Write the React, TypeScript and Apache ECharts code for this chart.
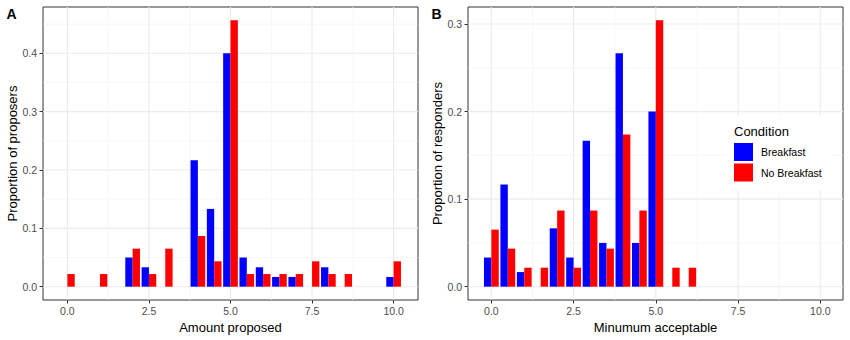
import React, { useEffect, useRef } from "react";
import * as echarts from "echarts";

// ---- Data (proportions) ----
const aBreakfastX = [2, 2.5, 4, 4.5, 5, 5.5, 6, 6.5, 7, 8, 10];
const aBreakfastY = [0.05, 0.0333, 0.2167, 0.1333, 0.4, 0.05, 0.0333, 0.0167, 0.0167, 0.0333, 0.0167];
const aNoBreakfastX = [0, 1, 2, 2.5, 3, 4, 4.5, 5, 5.5, 6, 6.5, 7, 7.5, 8, 8.5, 10];
const aNoBreakfastY = [0.0217, 0.0217, 0.0652, 0.0217, 0.0652, 0.087, 0.0435, 0.4565, 0.0217, 0.0217, 0.0217, 0.0217, 0.0435, 0.0217, 0.0217, 0.0435];

const bBreakfastX = [0, 0.5, 1, 2, 2.5, 3, 3.5, 4, 4.5, 5];
const bBreakfastY = [0.0333, 0.1167, 0.0167, 0.0667, 0.0333, 0.1667, 0.05, 0.2667, 0.05, 0.2];
const bNoBreakfastX = [0, 0.5, 1, 1.5, 2, 2.5, 3, 3.5, 4, 4.5, 5, 5.5, 6];
const bNoBreakfastY = [0.0652, 0.0435, 0.0217, 0.0217, 0.087, 0.0217, 0.087, 0.0435, 0.1739, 0.087, 0.3043, 0.0217, 0.0217];

const xTicks = [0, 2.5, 5, 7.5, 10];
const xMinor = [1.25, 3.75, 6.25, 8.75];
const yTicksA = [0, 0.1, 0.2, 0.3, 0.4];
const yMinorA = [0.05, 0.15, 0.25, 0.35, 0.45];
const yTicksB = [0, 0.1, 0.2, 0.3];
const yMinorB = [0.05, 0.15, 0.25];

const seriesNames = ["Breakfast", "No Breakfast"];
const legendTitle = "Condition";
const xTitles = ["Amount proposed", "Minumum acceptable"];
const yTitles = ["Proportion of proposers", "Proportion of responders"];
const panelLabels = ["A", "B"];

const BLUE = "#0000FF";
const RED = "#FF0000";
const FONT = "Liberation Sans, Arial, sans-serif";
const HALF = 0.225; // half of the dodged pair width (data units)

function zip(xs: number[], ys: number[]) {
  return xs.map((x, i) => [x, ys[i]]);
}

function gridData(xMaj: number[], xMin: number[], yMaj: number[], yMin: number[]) {
  return [
    ...xMin.map((v) => [0, v, 1]),
    ...yMin.map((v) => [1, v, 1]),
    ...xMaj.map((v) => [0, v, 0]),
    ...yMaj.map((v) => [1, v, 0]),
  ];
}

const gridRender = (params: any, api: any) => {
  const cs = params.coordSys;
  const orient = api.value(0);
  const pos = api.value(1);
  const minor = api.value(2) === 1;
  const style = { stroke: minor ? "#F3F3F3" : "#EBEBEB", lineWidth: minor ? 0.7 : 1.1 };
  if (orient === 0) {
    const p = api.coord([pos, 0]);
    return { type: "line", shape: { x1: p[0], y1: cs.y, x2: p[0], y2: cs.y + cs.height }, style };
  }
  const p = api.coord([0, pos]);
  return { type: "line", shape: { x1: cs.x, y1: p[1], x2: cs.x + cs.width, y2: p[1] }, style };
};

const barRender = (side: number, color: string) => (params: any, api: any) => {
  const x = api.value(0);
  const y = api.value(1);
  const left = side < 0 ? x - HALF : x;
  const right = side < 0 ? x : x + HALF;
  const a = api.coord([left, y]);
  const b = api.coord([right, 0]);
  return {
    type: "rect",
    shape: { x: a[0], y: a[1], width: b[0] - a[0], height: b[1] - a[1] },
    style: { fill: color },
  };
};

function xAxisFor(idx: number, min: number, max: number) {
  return {
    type: "value",
    gridIndex: idx,
    min,
    max,
    name: xTitles[idx],
    nameLocation: "middle",
    nameGap: 18,
    nameTextStyle: { color: "#000", fontSize: 13, fontFamily: FONT },
    axisLine: { show: false, onZero: false },
    axisTick: { show: true, length: 3.5, lineStyle: { color: "#333", width: 1 }, customValues: xTicks },
    axisLabel: {
      show: true,
      customValues: xTicks,
      margin: 5,
      color: "#4D4D4D",
      fontSize: 10.5,
      fontFamily: FONT,
      formatter: (v: number) => v.toFixed(1),
    },
    splitLine: { show: false },
  };
}

function yAxisFor(idx: number, min: number, max: number, ticks: number[]) {
  return {
    type: "value",
    gridIndex: idx,
    min,
    max,
    name: yTitles[idx],
    nameLocation: "middle",
    nameGap: 23,
    nameTextStyle: { color: "#000", fontSize: 13, fontFamily: FONT },
    axisLine: { show: false, onZero: false },
    axisTick: { show: true, length: 3.5, lineStyle: { color: "#333", width: 1 }, customValues: ticks },
    axisLabel: {
      show: true,
      customValues: ticks,
      margin: 6,
      color: "#4D4D4D",
      fontSize: 10.5,
      fontFamily: FONT,
      formatter: (v: number) => v.toFixed(1),
    },
    splitLine: { show: false },
  };
}

export default function App() {
  const ref = useRef<HTMLDivElement>(null);

  useEffect(() => {
    if (!ref.current) return;
    const chart = echarts.init(ref.current, undefined, { renderer: "svg" });
    const option: any = {
      animation: false,
      backgroundColor: "#FFFFFF",
      textStyle: { fontFamily: FONT },
      grid: [
        { left: 43, top: 7, width: 375, height: 293, show: true, borderColor: "#333333", borderWidth: 1, backgroundColor: "transparent" },
        { left: 468, top: 7, width: 375, height: 293, show: true, borderColor: "#333333", borderWidth: 1, backgroundColor: "transparent" },
      ],
      xAxis: [xAxisFor(0, -0.7475, 10.7475), xAxisFor(1, -0.71, 10.69)],
      yAxis: [yAxisFor(0, -0.0228, 0.4793, yTicksA), yAxisFor(1, -0.0152, 0.3195, yTicksB)],
      legend: {
        orient: "vertical",
        left: 734,
        top: 143,
        padding: 0,
        itemWidth: 19,
        itemHeight: 18,
        itemGap: 2.5,
        icon: "rect",
        data: seriesNames,
        selectedMode: false,
        textStyle: { color: "#000", fontSize: 10.5, fontFamily: FONT, padding: [0, 0, 0, 3] },
        z: 6,
      },
      graphic: [
        { type: "rect", z: 5, shape: { x: 727, y: 116, width: 102, height: 74 }, style: { fill: "#FFFFFF" } },
        { type: "text", z: 7, x: 734, y: 131, style: { text: legendTitle, fill: "#000", font: `13px ${FONT}`, verticalAlign: "middle" } },
        { type: "text", z: 7, x: 6.5, y: 13.5, style: { text: panelLabels[0], fill: "#000", font: `bold 14px ${FONT}`, verticalAlign: "middle" } },
        { type: "text", z: 7, x: 431.5, y: 13.5, style: { text: panelLabels[1], fill: "#000", font: `bold 14px ${FONT}`, verticalAlign: "middle" } },
      ],
      series: [
        { type: "custom", silent: true, xAxisIndex: 0, yAxisIndex: 0, z: 1, renderItem: gridRender, data: gridData(xTicks, xMinor, yTicksA, yMinorA) },
        { type: "custom", silent: true, xAxisIndex: 1, yAxisIndex: 1, z: 1, renderItem: gridRender, data: gridData(xTicks, xMinor, yTicksB, yMinorB) },
        { type: "custom", name: seriesNames[0], xAxisIndex: 0, yAxisIndex: 0, z: 2, clip: false, itemStyle: { color: BLUE }, renderItem: barRender(-1, BLUE), data: zip(aBreakfastX, aBreakfastY) },
        { type: "custom", name: seriesNames[1], xAxisIndex: 0, yAxisIndex: 0, z: 2, clip: false, itemStyle: { color: RED }, renderItem: barRender(1, RED), data: zip(aNoBreakfastX, aNoBreakfastY) },
        { type: "custom", name: seriesNames[0], xAxisIndex: 1, yAxisIndex: 1, z: 2, clip: false, itemStyle: { color: BLUE }, renderItem: barRender(-1, BLUE), data: zip(bBreakfastX, bBreakfastY) },
        { type: "custom", name: seriesNames[1], xAxisIndex: 1, yAxisIndex: 1, z: 2, clip: false, itemStyle: { color: RED }, renderItem: barRender(1, RED), data: zip(bNoBreakfastX, bNoBreakfastY) },
      ],
    };
    chart.setOption(option);
    return () => chart.dispose();
  }, []);

  return (
    <div
      ref={ref}
      style={{ position: "absolute", left: 0, top: 0, width: 850, height: 340, background: "#FFFFFF" }}
    />
  );
}
